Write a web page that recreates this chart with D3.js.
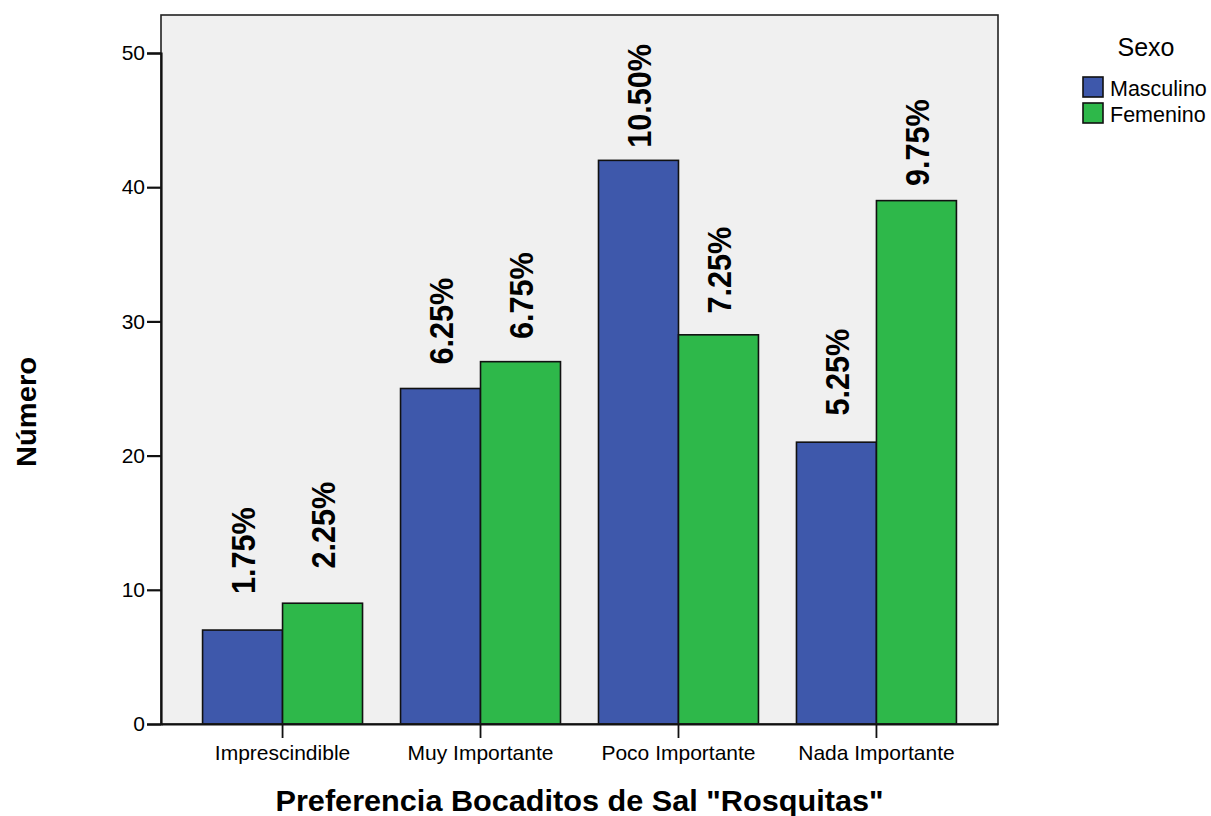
<!DOCTYPE html>
<html>
<head>
<meta charset="utf-8">
<script src="https://cdn.jsdelivr.net/npm/d3@7"></script>
<style>
  html, body { margin: 0; padding: 0; background: #ffffff; }
  svg { display: block; font-family: "Liberation Sans", Arial, sans-serif; }
</style>
</head>
<body>
<svg id="chart" width="1211" height="816"></svg>
<script>
// Preference counts by sex
const categories = ["Imprescindible", "Muy Importante", "Poco Importante", "Nada Importante"];
const seriesNames = ["Masculino", "Femenino"];
const masculino = [7, 25, 42, 21];
const femenino = [9, 27, 29, 39];
const pctMasculino = ["1.75%", "6.25%", "10.50%", "5.25%"];
const pctFemenino = ["2.25%", "6.75%", "7.25%", "9.75%"];
const yTicks = [0, 10, 20, 30, 40, 50];
const colors = ["#3e58ab", "#2eb84a"];

const rows = categories.map((c, i) => ({
  cat: c,
  vals: [
    { s: seriesNames[0], v: masculino[i], pct: pctMasculino[i] },
    { s: seriesNames[1], v: femenino[i], pct: pctFemenino[i] }
  ]
}));

const svg = d3.select("#chart");
const plot = { left: 161, right: 998, top: 15, bottom: 724 };

const x0 = d3.scaleBand()
  .domain(categories)
  .range([plot.left, plot.right])
  .paddingInner(0.192)
  .paddingOuter(0.21);

const x1 = d3.scaleBand()
  .domain(seriesNames)
  .range([0, x0.bandwidth()]);

const y = d3.scaleLinear()
  .domain([0, 50])
  .range([plot.bottom, 53]);

const color = d3.scaleOrdinal().domain(seriesNames).range(colors);

// plot background
svg.append("rect")
  .attr("x", plot.left).attr("y", plot.top)
  .attr("width", plot.right - plot.left)
  .attr("height", plot.bottom - plot.top)
  .attr("fill", "#f0f0f0");

// bars
const groups = svg.append("g").selectAll("g")
  .data(rows).join("g")
  .attr("transform", d => `translate(${x0(d.cat)},0)`);

groups.selectAll("rect")
  .data(d => d.vals).join("rect")
  .attr("x", d => x1(d.s))
  .attr("y", d => y(d.v))
  .attr("width", x1.bandwidth())
  .attr("height", d => y(0) - y(d.v))
  .attr("fill", d => color(d.s))
  .attr("stroke", "#111")
  .attr("stroke-width", 1.6);

// rotated percentage labels above bars
groups.selectAll("text")
  .data(d => d.vals).join("text")
  .attr("transform", d => {
    const top = y(d.v);
    const gap = 24 + 0.05 * (top - 390);
    const cx = x1(d.s) + x1.bandwidth() / 2;
    return `translate(${cx},${top - gap}) rotate(-90) scale(0.9,1)`;
  })
  .attr("dy", "0.36em")
  .attr("text-anchor", "start")
  .attr("font-size", 34)
  .attr("font-weight", "bold")
  .attr("fill", "#000")
  .text(d => d.pct);

// frame
svg.append("rect")
  .attr("x", plot.left).attr("y", plot.top)
  .attr("width", plot.right - plot.left)
  .attr("height", plot.bottom - plot.top)
  .attr("fill", "none")
  .attr("stroke", "#222")
  .attr("stroke-width", 1.6);

// y axis
const yAxis = svg.append("g")
  .attr("transform", `translate(${plot.left},0)`)
  .call(d3.axisLeft(y).tickValues(yTicks).tickSize(14).tickPadding(2).tickFormat(d3.format("d")));
yAxis.select(".domain").attr("stroke", "#111").attr("stroke-width", 2.2);
yAxis.selectAll(".tick line").attr("stroke", "#111").attr("stroke-width", 2.2);
yAxis.selectAll(".tick text")
  .attr("font-size", 21)
  .attr("font-family", "'Liberation Sans', Arial, sans-serif")
  .attr("fill", "#000");

// x axis
const xAxis = svg.append("g")
  .attr("transform", `translate(0,${plot.bottom})`)
  .call(d3.axisBottom(x0).tickSize(14).tickPadding(7).tickSizeOuter(0));
xAxis.select(".domain").attr("stroke", "#111").attr("stroke-width", 2.2);
xAxis.selectAll(".tick line").attr("stroke", "#111").attr("stroke-width", 1.8);
xAxis.selectAll(".tick text")
  .attr("font-size", 21)
  .attr("font-family", "'Liberation Sans', Arial, sans-serif")
  .attr("fill", "#000");

// axis titles
svg.append("text")
  .attr("x", (plot.left + plot.right) / 2)
  .attr("y", 811)
  .attr("text-anchor", "middle")
  .attr("font-size", 29)
  .attr("font-weight", "bold")
  .attr("textLength", 608)
  .attr("lengthAdjust", "spacingAndGlyphs")
  .text('Preferencia Bocaditos de Sal "Rosquitas"');

svg.append("text")
  .attr("transform", "translate(36,412) rotate(-90)")
  .attr("text-anchor", "middle")
  .attr("font-size", 27)
  .attr("font-weight", "bold")
  .attr("textLength", 110)
  .attr("lengthAdjust", "spacingAndGlyphs")
  .text("Número");

// legend
const legend = svg.append("g");
legend.append("text")
  .attr("x", 1146).attr("y", 56)
  .attr("text-anchor", "middle")
  .attr("font-size", 25)
  .text("Sexo");

const items = legend.selectAll("g.item")
  .data(seriesNames).join("g")
  .attr("class", "item")
  .attr("transform", (d, i) => `translate(1083,${77 + i * 26})`);
items.append("rect")
  .attr("width", 20).attr("height", 20)
  .attr("fill", d => color(d))
  .attr("stroke", "#111").attr("stroke-width", 1.6);
items.append("text")
  .attr("x", 27).attr("y", 19)
  .attr("font-size", 21.5)
  .text(d => d);
</script>
</body>
</html>
